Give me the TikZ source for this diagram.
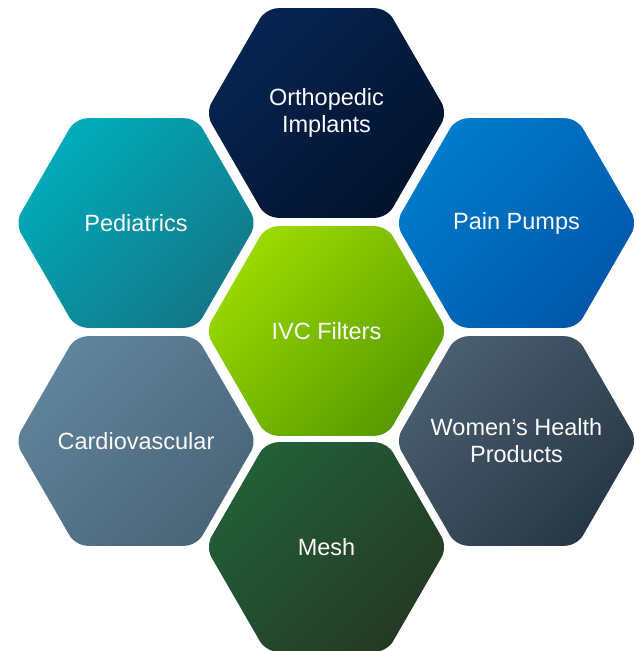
\documentclass[tikz,border=0pt]{standalone}
\usepackage{fontspec}
\setmainfont{Liberation Sans}
\usetikzlibrary{positioning, shapes.geometric}

\definecolor{orthoTop}{HTML}{062452}
\definecolor{orthoBot}{HTML}{03132C}
\definecolor{pedTop}{HTML}{00ACBA}
\definecolor{pedBot}{HTML}{137788}
\definecolor{painTop}{HTML}{007CCC}
\definecolor{painBot}{HTML}{0057AA}
\definecolor{ivcTop}{HTML}{9BDA00}
\definecolor{ivcBot}{HTML}{589B00}
\definecolor{cardioTop}{HTML}{60849C}
\definecolor{cardioBot}{HTML}{4A6578}
\definecolor{womenTop}{HTML}{4A5E6F}
\definecolor{womenBot}{HTML}{283746}
\definecolor{meshTop}{HTML}{225F38}
\definecolor{meshBot}{HTML}{253A25}

\begin{document}
\begin{tikzpicture}[x=1pt, y=-1pt,
    hexcell/.style={regular polygon, regular polygon sides=6, minimum size=242pt,
        inner sep=0pt, rounded corners=12pt},
    celltext/.style={align=center, text=white!96!gray, inner sep=0pt,
        font=\fontsize{23.5}{27}\selectfont},
    tint/.style 2 args={top color=#1, bottom color=#2, shading angle=45}]
    \useasboundingbox (0,0) rectangle (635,651);

    % centre cell
    \node[hexcell, tint={ivcTop}{ivcBot}] (ivc) at (326.5,331) {};

    % ring around it
    \node[hexcell, tint={orthoTop}{orthoBot}] (ortho) at (326.5,113) {};
    \node[hexcell, tint={painTop}{painBot}] (pain) at (516.5,223) {};
    \node[hexcell, tint={womenTop}{womenBot}] (women) at (516.5,441) {};
    \node[hexcell, tint={meshTop}{meshBot}] (mesh) at (326.5,547) {};
    \node[hexcell, tint={cardioTop}{cardioBot}] (cardio) at (136,441) {};
    \node[hexcell, tint={pedTop}{pedBot}] (ped) at (136,223) {};

    % labels
    \node[celltext] (ivc-txt) at (ivc) {IVC Filters};
    \node[celltext] (ortho-txt) at (ortho) {Orthopedic\\Implants};
    \node[celltext] (pain-txt) at (pain) {Pain Pumps};
    \node[celltext] (women-txt) at (women) {Women’s Health\\Products};
    \node[celltext] (mesh-txt) at (mesh) {Mesh};
    \node[celltext] (cardio-txt) at (cardio) {Cardiovascular};
    \node[celltext] (ped-txt) at (ped) {Pediatrics};
\end{tikzpicture}
\end{document}
